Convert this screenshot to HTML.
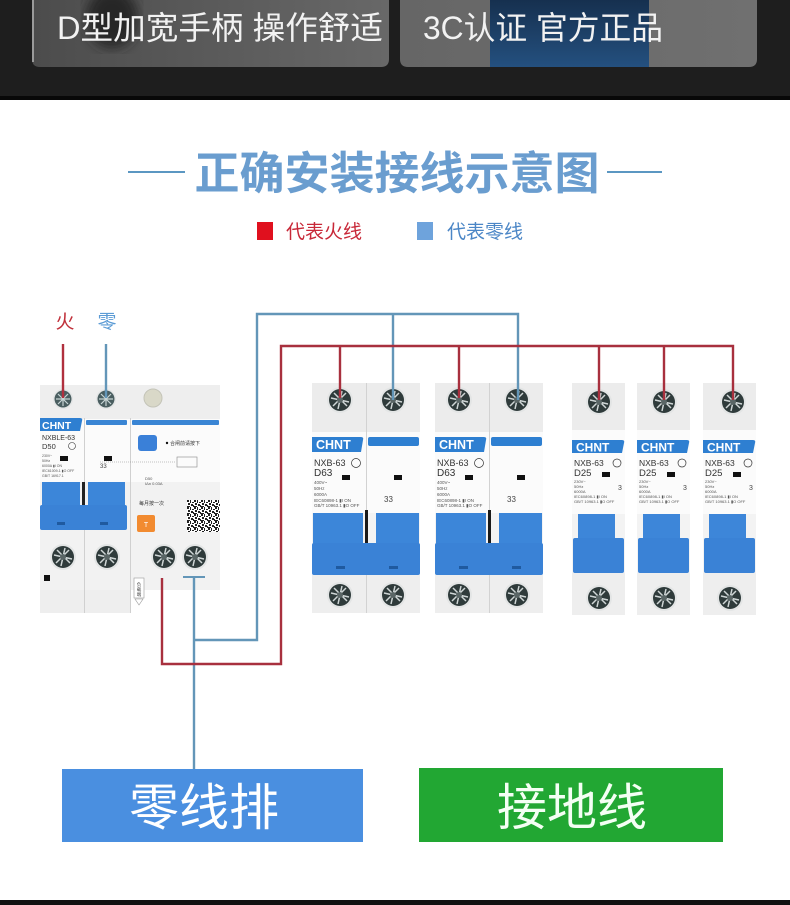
<!DOCTYPE html>
<html><head><meta charset="utf-8"><style>
html,body{margin:0;padding:0;background:#fff;width:790px;height:905px;overflow:hidden}
svg{display:block}
text{font-family:"Liberation Sans","Noto Sans CJK SC",sans-serif}
</style></head><body>
<svg width="790" height="905" viewBox="0 0 790 905" xmlns="http://www.w3.org/2000/svg">
<defs>
 <linearGradient id="cardL" x1="0" x2="1"><stop offset="0" stop-color="#4c4c4c"/><stop offset="1" stop-color="#686868"/></linearGradient>
 <linearGradient id="cardR" x1="0" x2="1"><stop offset="0" stop-color="#666"/><stop offset="1" stop-color="#707070"/></linearGradient>
 <linearGradient id="navy" x1="0" y1="0" x2="0" y2="1"><stop offset="0" stop-color="#16304f"/><stop offset="1" stop-color="#24507f"/></linearGradient>
 <filter id="blur"><feGaussianBlur stdDeviation="6"/></filter>
 <g id="scr">
  <circle r="13" fill="#e3e5e5"/>
  <circle r="11" fill="#2f3b3b"/>
  <path d="M-9 -2L9 2M-2 9L2 -9M-6 -7L7 6M-7 6L6 -7" stroke="#cfd6d6" stroke-width="1.5"/>
  <circle r="3" fill="#5a6666"/>
 </g>
 <g id="scrS">
  <circle r="10" fill="#e4e6e6"/>
  <circle r="8.5" fill="#4a5e60"/>
  <path d="M-7 0H7M0-7V7M-5-5L5 5M-5 5L5-5" stroke="#c8d4d4" stroke-width="1.2"/>
 </g>
 <pattern id="qr" width="7" height="7" patternUnits="userSpaceOnUse" x="187" y="500">
  <rect width="7" height="7" fill="#fff"/>
  <rect x="0" y="0" width="2" height="2" fill="#222"/>
  <rect x="3" y="0" width="1" height="3" fill="#222"/>
  <rect x="5" y="2" width="2" height="1" fill="#222"/>
  <rect x="1" y="3" width="2" height="2" fill="#222"/>
  <rect x="4" y="4" width="2" height="2" fill="#222"/>
  <rect x="0" y="6" width="3" height="1" fill="#222"/>
  <rect x="6" y="5" width="1" height="2" fill="#222"/>
 </pattern>
</defs>

<!-- top dark band -->
<rect width="790" height="97" fill="#1e1e1e"/>
<rect y="96" width="790" height="4" fill="#080808"/>
<path d="M32 0H389V59Q389 67 381 67H40Q32 67 32 59Z" fill="url(#cardL)"/>
<rect x="32" y="0" width="2" height="62" fill="#9a9a9a"/>
<ellipse cx="112" cy="18" rx="26" ry="30" fill="#252525" filter="url(#blur)"/>
<path d="M400 0H757V59Q757 67 749 67H408Q400 67 400 59Z" fill="url(#cardR)"/>
<rect x="490" y="0" width="159" height="67" fill="url(#navy)"/>
<text x="57" y="39" font-size="32" fill="#f2f2f2" textLength="326" lengthAdjust="spacingAndGlyphs">D型加宽手柄 操作舒适</text>
<text x="423" y="39" font-size="32" fill="#f2f2f2" textLength="240" lengthAdjust="spacingAndGlyphs">3C认证 官方正品</text>

<!-- title -->
<rect x="128" y="171" width="57" height="2" fill="#5b97c2"/>
<rect x="607" y="171" width="55" height="2" fill="#5b97c2"/>
<text x="397" y="189" text-anchor="middle" font-size="45" font-weight="bold" fill="#6a9dcf" textLength="405" lengthAdjust="spacingAndGlyphs">正确安装接线示意图</text>

<!-- legend -->
<rect x="257" y="222" width="16" height="18" fill="#e0101e"/>
<text x="286" y="238" font-size="19" fill="#c82838">代表火线</text>
<rect x="417" y="222" width="16" height="18" fill="#6ea3dc"/>
<text x="447" y="238" font-size="19" fill="#4b86c6">代表零线</text>

<!-- 火 零 -->
<text x="65" y="328" font-size="19" text-anchor="middle" fill="#c0303a">火</text>
<text x="107" y="328" font-size="19" text-anchor="middle" fill="#5b9bd5">零</text>

<!-- left RCBO -->
<g>
 <rect x="40" y="385" width="180" height="205" fill="#f2f2f2"/>
 <rect x="40" y="590" width="90" height="23" fill="#eeeeee"/>
 <rect x="40" y="385" width="180" height="34" fill="#eeeeee"/>
 <use href="#scrS" x="63" y="399"/>
 <use href="#scrS" x="106" y="399"/>
 <circle cx="153" cy="398" r="9" fill="#d9d8c8" stroke="#c4c4b8"/>
 <rect x="40" y="419" width="180" height="63" fill="#fbfbfb"/>
 <path d="M40 418H80Q83 418 82 421L80 431H40Z" fill="#2e7fd1"/>
 <text x="42" y="429" font-size="10.5" font-weight="bold" fill="#fff">CHNT</text>
 <rect x="86" y="420" width="41" height="5" rx="1" fill="#3a85d4"/>
 <rect x="132" y="420" width="87" height="5" rx="1" fill="#3a85d4"/>
 <line x1="84.5" y1="418" x2="84.5" y2="613" stroke="#d0d0d0"/>
 <line x1="130.5" y1="418" x2="130.5" y2="613" stroke="#d0d0d0"/>
 <text x="42" y="440" font-size="7" fill="#333">NXBLE-63</text>
 <text x="42" y="449" font-size="7.5" fill="#333">D50</text>
 <circle cx="72" cy="446" r="3.5" fill="none" stroke="#333" stroke-width="0.6"/>
 <rect x="60" y="456" width="8" height="5" fill="#111"/>
 <rect x="104" y="456" width="8" height="5" fill="#111"/>
 <text x="42" y="457" font-size="3.5" fill="#555">230V~</text>
 <text x="42" y="462" font-size="3.5" fill="#555">50Hz</text>
 <text x="42" y="467" font-size="3.5" fill="#555">6000A  ▮I ON</text>
 <text x="42" y="472" font-size="3.5" fill="#555">IEC61009-1 ▮O OFF</text>
 <text x="42" y="477" font-size="3.5" fill="#555">GB/T 16917.1</text>
 <text x="100" y="468" font-size="6" fill="#444">33</text>
 <rect x="138" y="435" width="19" height="16" rx="3" fill="#3a80d8"/>
 <circle cx="167" cy="443" r="1.2" fill="#111"/>
 <text x="170" y="445" font-size="5" fill="#333">合闸前请按下</text>
 <line x1="100" y1="462" x2="175" y2="462" stroke="#888" stroke-width="0.6" stroke-dasharray="1 1"/>
 <rect x="177" y="457" width="20" height="10" fill="none" stroke="#888" stroke-width="0.6"/>
 <text x="145" y="480" font-size="4" fill="#555">D50</text>
 <text x="145" y="485" font-size="4" fill="#555">IΔn 0.03A</text>
 <text x="139" y="505" font-size="5" fill="#333">每月按一次</text>
 <rect x="137" y="515" width="18" height="17" rx="2" fill="#f28b30"/>
 <text x="146" y="527" font-size="7" text-anchor="middle" fill="#fff">T</text>
 <rect x="187" y="500" width="33" height="32" fill="url(#qr)"/>
 <rect x="42" y="482" width="38" height="26" fill="#3c86d9"/>
 <rect x="88" y="482" width="37" height="26" fill="#3c86d9"/>
 <rect x="82" y="482" width="3" height="24" fill="#222"/>
 <rect x="40" y="505" width="87" height="25" rx="2" fill="#3a82d6"/>
 <rect x="57" y="522" width="8" height="3" fill="#1f5aa0"/>
 <rect x="100" y="522" width="8" height="3" fill="#1f5aa0"/>
 <use href="#scr" x="63" y="557"/>
 <use href="#scr" x="107" y="557"/>
 <use href="#scr" x="164" y="557"/>
 <use href="#scr" x="195" y="557"/>
 <rect x="44" y="575" width="6" height="6" fill="#111"/>
 <rect x="134" y="578" width="10" height="20" fill="#fff" stroke="#999" stroke-width="0.6"/>
 <text x="139" y="586" font-size="4.5" text-anchor="middle" fill="#444">负</text>
 <text x="139" y="591" font-size="4.5" text-anchor="middle" fill="#444">载</text>
 <text x="139" y="596" font-size="4.5" text-anchor="middle" fill="#444">端</text>
 <path d="M135 599H143L139 605Z" fill="#fff" stroke="#999" stroke-width="0.6"/>
 <rect x="183" y="576" width="22" height="2" fill="#6396b8"/>
</g>

<!-- 2-pole A -->
<g transform="translate(312,0)">
 <rect x="0" y="383" width="108" height="230" fill="#f3f3f3"/>
 <rect x="0" y="383" width="108" height="50" fill="#ececec"/>
 <rect x="0" y="432" width="108" height="81" fill="#fbfbfb"/>
 <line x1="54.5" y1="383" x2="54.5" y2="613" stroke="#d2d2d2"/>
 <use href="#scr" x="28" y="400"/>
 <use href="#scr" x="81" y="400"/>
 <path d="M0 437H49Q52 437 51 440L49 452H0Z" fill="#2e7fd1"/>
 <text x="4" y="449" font-size="12.5" font-weight="bold" fill="#fff">CHNT</text>
 <rect x="56" y="437" width="51" height="9" rx="2" fill="#2e7fd1"/>
 <text x="2" y="466" font-size="9" fill="#333">NXB-63</text>
 <circle cx="44" cy="463" r="4.5" fill="none" stroke="#333" stroke-width="0.7"/>
 <text x="2" y="476" font-size="10" fill="#333">D63</text>
 <rect x="30" y="475" width="8" height="5" fill="#111"/>
 <rect x="82" y="475" width="8" height="5" fill="#111"/>
 <text x="2" y="484" font-size="4.5" fill="#555">400V~</text>
 <text x="2" y="490" font-size="4.5" fill="#555">50Hz</text>
 <text x="2" y="496" font-size="4.5" fill="#555">6000A</text>
 <text x="2" y="502" font-size="4.5" fill="#555">IEC60898-1 ▮I ON</text>
 <text x="2" y="507" font-size="4.5" fill="#555">GB/T 10963.1 ▮O OFF</text>
 <text x="72" y="502" font-size="8" fill="#444">33</text>
 <rect x="1" y="513" width="50" height="32" fill="#3c86d9"/>
 <rect x="64" y="513" width="43" height="32" fill="#3c86d9"/>
 <rect x="53" y="510" width="3" height="35" fill="#1a1a1a"/>
 <rect x="0" y="543" width="108" height="32" rx="2" fill="#3a82d6"/>
 <rect x="24" y="566" width="9" height="3" fill="#1f5aa0"/>
 <rect x="77" y="566" width="9" height="3" fill="#1f5aa0"/>
 <rect x="0" y="575" width="108" height="38" fill="#eeeeee"/>
 <line x1="54.5" y1="575" x2="54.5" y2="613" stroke="#d2d2d2"/>
 <use href="#scr" x="28" y="595"/>
 <use href="#scr" x="81" y="595"/>
</g>

<!-- 2-pole B -->
<g transform="translate(435,0)">
 <rect x="0" y="383" width="108" height="230" fill="#f3f3f3"/>
 <rect x="0" y="383" width="108" height="50" fill="#ececec"/>
 <rect x="0" y="432" width="108" height="81" fill="#fbfbfb"/>
 <line x1="54.5" y1="383" x2="54.5" y2="613" stroke="#d2d2d2"/>
 <use href="#scr" x="24" y="400"/>
 <use href="#scr" x="82" y="400"/>
 <path d="M0 437H49Q52 437 51 440L49 452H0Z" fill="#2e7fd1"/>
 <text x="4" y="449" font-size="12.5" font-weight="bold" fill="#fff">CHNT</text>
 <rect x="56" y="437" width="51" height="9" rx="2" fill="#2e7fd1"/>
 <text x="2" y="466" font-size="9" fill="#333">NXB-63</text>
 <circle cx="44" cy="463" r="4.5" fill="none" stroke="#333" stroke-width="0.7"/>
 <text x="2" y="476" font-size="10" fill="#333">D63</text>
 <rect x="30" y="475" width="8" height="5" fill="#111"/>
 <rect x="82" y="475" width="8" height="5" fill="#111"/>
 <text x="2" y="484" font-size="4.5" fill="#555">400V~</text>
 <text x="2" y="490" font-size="4.5" fill="#555">50Hz</text>
 <text x="2" y="496" font-size="4.5" fill="#555">6000A</text>
 <text x="2" y="502" font-size="4.5" fill="#555">IEC60898-1 ▮I ON</text>
 <text x="2" y="507" font-size="4.5" fill="#555">GB/T 10963.1 ▮O OFF</text>
 <text x="72" y="502" font-size="8" fill="#444">33</text>
 <rect x="1" y="513" width="50" height="32" fill="#3c86d9"/>
 <rect x="64" y="513" width="43" height="32" fill="#3c86d9"/>
 <rect x="53" y="510" width="3" height="35" fill="#1a1a1a"/>
 <rect x="0" y="543" width="108" height="32" rx="2" fill="#3a82d6"/>
 <rect x="24" y="566" width="9" height="3" fill="#1f5aa0"/>
 <rect x="77" y="566" width="9" height="3" fill="#1f5aa0"/>
 <rect x="0" y="575" width="108" height="38" fill="#eeeeee"/>
 <line x1="54.5" y1="575" x2="54.5" y2="613" stroke="#d2d2d2"/>
 <use href="#scr" x="24" y="595"/>
 <use href="#scr" x="82" y="595"/>
</g>

<!-- single poles -->
<g transform="translate(572,0)">
 <rect x="0" y="383" width="53" height="232" fill="#f3f3f3"/>
 <rect x="0" y="383" width="53" height="48" fill="#ececec"/>
 <rect x="0" y="430" width="53" height="84" fill="#fbfbfb"/>
 <use href="#scr" x="27" y="402"/>
 <path d="M0 440H50Q53 440 52 443L50 453H0Z" fill="#2e7fd1"/>
 <text x="4" y="451.5" font-size="12" font-weight="bold" fill="#fff">CHNT</text>
 <text x="2" y="466" font-size="8.5" fill="#333">NXB-63</text>
 <circle cx="45" cy="463" r="4" fill="none" stroke="#333" stroke-width="0.7"/>
 <text x="2" y="476" font-size="9.5" fill="#333">D25</text>
 <rect x="30" y="472" width="8" height="5" fill="#111"/>
 <text x="2" y="483" font-size="4" fill="#555">230V~</text>
 <text x="2" y="488" font-size="4" fill="#555">50Hz</text>
 <text x="2" y="493" font-size="4" fill="#555">6000A</text>
 <text x="2" y="498" font-size="4" fill="#555">IEC60898-1 ▮I ON</text>
 <text x="2" y="503" font-size="4" fill="#555">GB/T 10963.1 ▮O OFF</text>
 <text x="46" y="490" font-size="7" fill="#444">3</text>
 <rect x="6" y="514" width="37" height="26" fill="#3d86d9"/>
 <rect x="1" y="538" width="51" height="35" rx="2" fill="#3a82d6"/>
 <rect x="0" y="573" width="53" height="42" fill="#eeeeee"/>
 <use href="#scr" x="27" y="598"/>
</g>
<g transform="translate(637,0)">
 <rect x="0" y="383" width="53" height="232" fill="#f3f3f3"/>
 <rect x="0" y="383" width="53" height="48" fill="#ececec"/>
 <rect x="0" y="430" width="53" height="84" fill="#fbfbfb"/>
 <use href="#scr" x="27" y="402"/>
 <path d="M0 440H50Q53 440 52 443L50 453H0Z" fill="#2e7fd1"/>
 <text x="4" y="451.5" font-size="12" font-weight="bold" fill="#fff">CHNT</text>
 <text x="2" y="466" font-size="8.5" fill="#333">NXB-63</text>
 <circle cx="45" cy="463" r="4" fill="none" stroke="#333" stroke-width="0.7"/>
 <text x="2" y="476" font-size="9.5" fill="#333">D25</text>
 <rect x="30" y="472" width="8" height="5" fill="#111"/>
 <text x="2" y="483" font-size="4" fill="#555">230V~</text>
 <text x="2" y="488" font-size="4" fill="#555">50Hz</text>
 <text x="2" y="493" font-size="4" fill="#555">6000A</text>
 <text x="2" y="498" font-size="4" fill="#555">IEC60898-1 ▮I ON</text>
 <text x="2" y="503" font-size="4" fill="#555">GB/T 10963.1 ▮O OFF</text>
 <text x="46" y="490" font-size="7" fill="#444">3</text>
 <rect x="6" y="514" width="37" height="26" fill="#3d86d9"/>
 <rect x="1" y="538" width="51" height="35" rx="2" fill="#3a82d6"/>
 <rect x="0" y="573" width="53" height="42" fill="#eeeeee"/>
 <use href="#scr" x="27" y="598"/>
</g>
<g transform="translate(703,0)">
 <rect x="0" y="383" width="53" height="232" fill="#f3f3f3"/>
 <rect x="0" y="383" width="53" height="48" fill="#ececec"/>
 <rect x="0" y="430" width="53" height="84" fill="#fbfbfb"/>
 <use href="#scr" x="30" y="402"/>
 <path d="M0 440H50Q53 440 52 443L50 453H0Z" fill="#2e7fd1"/>
 <text x="4" y="451.5" font-size="12" font-weight="bold" fill="#fff">CHNT</text>
 <text x="2" y="466" font-size="8.5" fill="#333">NXB-63</text>
 <circle cx="45" cy="463" r="4" fill="none" stroke="#333" stroke-width="0.7"/>
 <text x="2" y="476" font-size="9.5" fill="#333">D25</text>
 <rect x="30" y="472" width="8" height="5" fill="#111"/>
 <text x="2" y="483" font-size="4" fill="#555">230V~</text>
 <text x="2" y="488" font-size="4" fill="#555">50Hz</text>
 <text x="2" y="493" font-size="4" fill="#555">6000A</text>
 <text x="2" y="498" font-size="4" fill="#555">IEC60898-1 ▮I ON</text>
 <text x="2" y="503" font-size="4" fill="#555">GB/T 10963.1 ▮O OFF</text>
 <text x="46" y="490" font-size="7" fill="#444">3</text>
 <rect x="6" y="514" width="37" height="26" fill="#3d86d9"/>
 <rect x="1" y="538" width="51" height="35" rx="2" fill="#3a82d6"/>
 <rect x="0" y="573" width="53" height="42" fill="#eeeeee"/>
 <use href="#scr" x="27" y="598"/>
</g>

<!-- wires -->
<g fill="none" stroke-width="2.4" stroke-linejoin="miter">
 <path d="M63 344V398" stroke="#b0303e"/>
 <path d="M106 344V398" stroke="#6396b8"/>
 <path d="M194 578V769M194 640H257V314H518V400M393 314V400" stroke="#6396b8"/>
 <path d="M162 578V664H281V346H733V400M340 346V398M459 346V398M599 346V400M664 346V400" stroke="#a8303e"/>
</g>

<!-- bottom boxes -->
<rect x="62" y="769" width="301" height="73" fill="#4a8fe0"/>
<text x="204" y="825" font-size="50" text-anchor="middle" fill="#fff">零线排</text>
<rect x="419" y="768" width="304" height="74" fill="#22a733"/>
<text x="572" y="825" font-size="50" text-anchor="middle" fill="#f4fff4">接地线</text>
<rect y="900" width="790" height="5" fill="#111"/>
</svg>
</body></html>
